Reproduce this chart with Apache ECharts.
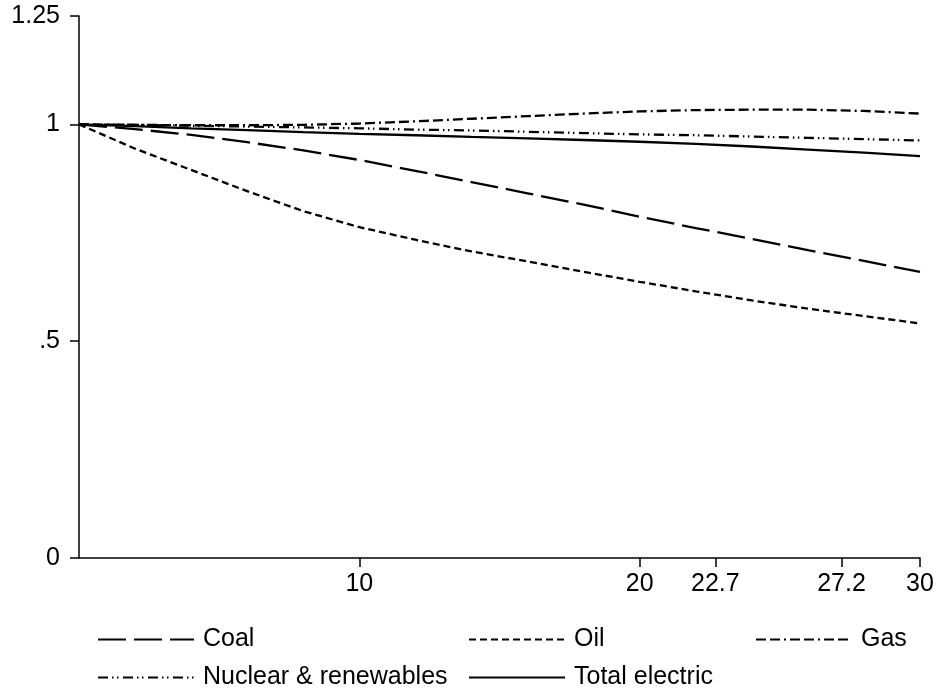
<!DOCTYPE html>
<html>
<head>
<meta charset="utf-8">
<script src="https://cdn.jsdelivr.net/npm/echarts@6/dist/echarts.min.js"></script>
<style>
html,body{margin:0;padding:0;background:#fff;}
#chart{width:940px;height:692px;}
</style>
</head>
<body>
<div id="chart"></div>
<script>
// ---- data ----
const years = [0, 2, 4, 6, 8, 10, 12, 14, 16, 18, 20, 22, 24, 26, 28, 30];
const coal = [1.000, 0.989, 0.976, 0.959, 0.940, 0.918, 0.893, 0.867, 0.841, 0.815, 0.787, 0.761, 0.736, 0.710, 0.685, 0.660];
const oil = [1.000, 0.944, 0.895, 0.846, 0.800, 0.763, 0.734, 0.707, 0.684, 0.660, 0.637, 0.615, 0.594, 0.575, 0.558, 0.541];
const gas = [1.000, 0.999, 0.998, 0.998, 0.999, 1.002, 1.007, 1.013, 1.019, 1.025, 1.030, 1.033, 1.034, 1.034, 1.031, 1.025];
const nuclear = [1.000, 0.999, 0.997, 0.995, 0.993, 0.991, 0.988, 0.986, 0.983, 0.980, 0.977, 0.975, 0.972, 0.969, 0.966, 0.963];
const total = [1.000, 0.996, 0.991, 0.987, 0.982, 0.978, 0.975, 0.971, 0.968, 0.964, 0.960, 0.955, 0.949, 0.942, 0.935, 0.927];
const xTicks = [10, 20, 22.7, 27.2, 30];
const yTicks = [0, 0.5, 1, 1.25];
const yTickLabels = ['0', '.5', '1', '1.25'];
const names = ['Coal', 'Oil', 'Gas', 'Nuclear & renewables', 'Total electric'];

// ---- styling ----
const FONT = 'Liberation Sans, Arial, sans-serif';
const FS = 25;
const dashes = [
  [28, 8],
  [7, 4],
  [10, 4, 10, 4, 2, 4],
  [10, 4, 1.5, 3.5, 1.5, 4.5],
  'solid'
];
const values = [coal, oil, gas, nuclear, total];

const series = names.map((n, i) => ({
  name: n,
  type: 'line',
  symbol: 'none',
  showSymbol: false,
  smooth: false,
  data: years.map((x, j) => [x, values[i][j]]),
  lineStyle: { color: '#000', width: 2.3, type: dashes[i] },
  itemStyle: { color: '#000' },
  emphasis: { disabled: true },
  animation: false
}));

const legendPos = [
  { left: 97, top: 627 },
  { left: 468, top: 627 },
  { left: 755, top: 627 },
  { left: 97, top: 665 },
  { left: 468, top: 665 }
];
const legends = names.map((n, i) => ({
  data: [n],
  left: legendPos[i].left,
  top: legendPos[i].top,
  itemWidth: 96,
  itemHeight: 14,
  padding: 0,
  selectedMode: false,
  itemStyle: { opacity: 0 },
  lineStyle: { color: '#000', width: 2, type: dashes[i] },
  textStyle: { fontFamily: FONT, fontSize: 25, color: '#000', padding: [0, 0, 0, 4] }
}));

const chart = echarts.init(document.getElementById('chart'), null, { renderer: 'canvas' });
chart.setOption({
  animation: false,
  backgroundColor: '#fff',
  grid: { left: 79, right: 20, top: 16, bottom: 134, containLabel: false },
  legend: legends,
  xAxis: {
    type: 'value',
    min: 0,
    max: 30,
    axisLine: { show: true, onZero: false, lineStyle: { color: '#000', width: 1.5 } },
    axisTick: { show: true, customValues: xTicks, length: 9, lineStyle: { color: '#000', width: 1.5 } },
    axisLabel: {
      customValues: xTicks,
      margin: 14,
      fontFamily: FONT, fontSize: FS, color: '#000',
      formatter: v => String(v)
    },
    splitLine: { show: false }
  },
  yAxis: {
    type: 'value',
    min: 0,
    max: 1.25,
    axisLine: { show: true, onZero: false, lineStyle: { color: '#000', width: 1.5 } },
    axisTick: { show: true, customValues: yTicks, length: 9, lineStyle: { color: '#000', width: 1.5 } },
    axisLabel: {
      customValues: yTicks,
      margin: 19,
      fontFamily: FONT, fontSize: FS, color: '#000',
      formatter: v => yTickLabels[yTicks.indexOf(v)] ?? ''
    },
    splitLine: { show: false }
  },
  series: series
});
</script>
</body>
</html>
